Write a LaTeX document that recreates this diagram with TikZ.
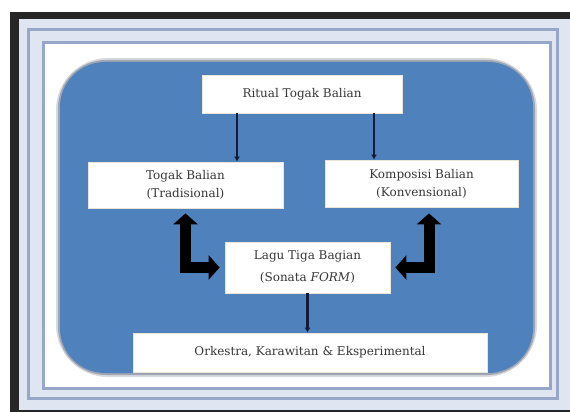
\documentclass[tikz,border=0pt]{standalone}
\usepackage{fontspec}
\setmainfont{DejaVu Serif}
\usetikzlibrary{arrows.meta}
\definecolor{framelav}{RGB}{224,229,242}
\definecolor{framegray}{RGB}{150,167,200}
\definecolor{balianblue}{RGB}{79,129,189}
\definecolor{blueshadow}{RGB}{95,105,125}
\definecolor{arrownavy}{RGB}{18,28,58}
\definecolor{textgray}{RGB}{55,55,55}
\definecolor{boxedge}{RGB}{235,228,215}

\begin{document}
\begin{tikzpicture}[x=1pt, y=-1pt, >=Latex, font=\fontsize{12}{18}\selectfont,
  box/.style={fill=white, draw=boxedge, text=textgray, align=center,
    inner sep=0pt, line width=0.8pt},
  thinarrow/.style={-{Latex[length=5pt,width=6pt]}, arrownavy, line width=2.8pt},
  bigarrow/.style={{Triangle[length=11pt,width=24pt]}-{Triangle[length=11pt,width=24pt]},
    black, line width=11pt}]

% =====================================================================
% Page frame: black edge top/left, light bands with two grey-blue rules
% =====================================================================
\useasboundingbox (0,0) rectangle (570,412);
\fill[white] (0,0) rectangle (570,412);
\fill[black!85] (10,12) rectangle (570,412);
\fill[framelav] (19,19) rectangle (570,409.5);
\draw[framegray, line width=3pt] (28.5,30) rectangle (557,398.5);
\draw[framegray, line width=3pt] (43,42.5) rectangle (550,388);
\fill[white] (44.5,44) rectangle (548.5,386.5);

% Blue rounded panel with a soft grey rim
\draw[blueshadow, line width=8pt, opacity=0.25, rounded corners=48pt]
  (60,62) rectangle (533,373);
\draw[blueshadow, line width=4pt, opacity=0.45, rounded corners=46pt]
  (60,62) rectangle (533,373);
\fill[balianblue, rounded corners=45pt] (60,62) rectangle (533,373);

% =====================================================================
% Boxes
% =====================================================================
\node[box, minimum width=200pt, minimum height=38pt] (ritual) at (302,94)
  {Ritual Togak Balian};
\node[box, minimum width=195pt, minimum height=46pt] (togak) at (185.5,185)
  {Togak Balian\\(Tradisional)};
\node[box, minimum width=193pt, minimum height=47pt] (komposisi) at (421.5,183.5)
  {Komposisi Balian\\(Konvensional)};
\node[box, minimum width=165pt, minimum height=51pt] (lagu) at (307.5,267.5)
  {Lagu Tiga Bagian\\[4pt](Sonata \textit{FORM})};
\node[box, minimum width=354pt, minimum height=39pt] (orkestra) at (310,352.5)
  {Orkestra, Karawitan \& Eksperimental};

% =====================================================================
% Connectors
% =====================================================================
\coordinate (tl) at (237,0);
\coordinate (tr) at (374,0);
\draw[thinarrow] (ritual.south -| tl) -- (togak.north -| tl);
\draw[thinarrow] (ritual.south -| tr) -- (komposisi.north -| tr);
\draw[thinarrow] (lagu.south) -- (lagu.south |- orkestra.north);

% thick L-shaped two-way arrows
\draw[bigarrow, shorten <=5pt, shorten >=5pt] (togak.south) |- (lagu.west);
\draw[bigarrow, shorten <=6pt, shorten >=5pt]
  ([xshift=7.5pt]komposisi.south) |- (lagu.east);

\end{tikzpicture}
\end{document}
